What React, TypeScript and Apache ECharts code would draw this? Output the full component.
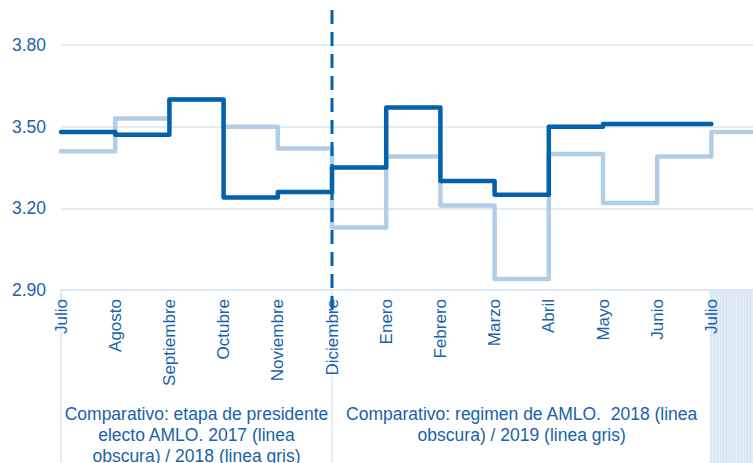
import React, { useEffect, useRef } from "react";
import * as echarts from "echarts";

// Month categories (last "Agosto" lies just beyond the visible edge)
const categories = [
  "Julio", "Agosto", "Septiembre", "Octubre", "Noviembre", "Diciembre",
  "Enero", "Febrero", "Marzo", "Abril", "Mayo", "Junio", "Julio", "Agosto",
];
// Dark line: 2017 / 2018
const darkSeries = [3.48, 3.47, 3.6, 3.24, 3.26, 3.35, 3.57, 3.3, 3.25, 3.5, 3.51, 3.51, null, null];
// Light line: 2018 / 2019
const lightSeries = [3.41, 3.53, 3.6, 3.5, 3.42, 3.13, 3.39, 3.21, 2.94, 3.4, 3.22, 3.39, 3.48, 3.48];
// Y axis ticks
const yMin = 2.9;
const yMax = 3.8;
const yStep = 0.3;
// Group labels under the axis
const groupLabels = [
  "Comparativo: etapa de presidente\nelecto AMLO. 2017 (linea\nobscura) / 2018 (linea gris)",
  "Comparativo: regimen de AMLO.  2018 (linea\nobscura) / 2019 (linea gris)",
];
const groupSpans = [[0, 5], [5, 12]];
const dividerIndex = 5; // Diciembre

const FONT = "'Liberation Sans', Arial, Helvetica, sans-serif";
const TEXT = "#1862aa";
const DARK = "#0462aa";
const LIGHT = "#b2cde5";
const GRID = "#d9e6f2";
const VIEW_W = 753;
const VIEW_H = 463;

export default function App() {
  const ref = useRef<HTMLDivElement>(null);
  useEffect(() => {
    if (!ref.current) return;
    const chart = echarts.init(ref.current, undefined, { renderer: "svg" });
    chart.setOption({
      animation: false,
      backgroundColor: "#ffffff",
      grid: { left: 61, top: 45, width: 704.6, height: 245, containLabel: false },
      xAxis: {
        type: "category",
        data: categories,
        boundaryGap: false,
        axisLine: { show: true, lineStyle: { color: GRID, width: 1.5 } },
        axisTick: { show: false },
        splitLine: { show: false },
        axisLabel: {
          interval: 0,
          rotate: 90,
          margin: 9,
          color: TEXT,
          fontFamily: FONT,
          fontSize: 17,
          formatter: (v: string, i: number) => (i < 13 ? v : ""),
        },
      },
      yAxis: {
        type: "value",
        min: yMin,
        max: yMax,
        interval: yStep,
        axisLine: { show: false },
        axisTick: { show: false },
        splitLine: { show: true, lineStyle: { color: GRID, width: 1.5 } },
        axisLabel: {
          margin: 15,
          color: TEXT,
          fontFamily: FONT,
          fontSize: 17.5,
          formatter: (v: number) => v.toFixed(2),
        },
      },
      series: [
        {
          type: "line",
          data: lightSeries,
          step: "end",
          symbol: "none",
          lineStyle: { color: LIGHT, width: 4.5, cap: "round", join: "round" },
          z: 2,
        },
        {
          type: "line",
          data: darkSeries,
          step: "end",
          symbol: "none",
          lineStyle: { color: DARK, width: 4.5, cap: "round", join: "round" },
          z: 3,
        },
      ],
    });

    const px = (i: number) => chart.convertToPixel({ xAxisIndex: 0 }, i) as number;
    const bottom = 290;
    const graphics: any[] = [];
    // hatched cell at the right
    const hx = px(12) - 2;
    graphics.push({
      type: "rect",
      shape: { x: hx, y: bottom, width: VIEW_W - hx, height: VIEW_H - bottom },
      style: { fill: "#e3edf7" },
      z: 0,
    });
    for (let x = hx + 2; x < VIEW_W; x += 3) {
      graphics.push({
        type: "line",
        shape: { x1: x, y1: bottom, x2: x, y2: VIEW_H },
        style: { stroke: "#d2e1f0", lineWidth: 0.8 },
        z: 0,
      });
    }
    // table borders under axis
    [0, dividerIndex].forEach((i) => {
      const x = px(i);
      graphics.push({
        type: "line",
        shape: { x1: x, y1: bottom, x2: x, y2: VIEW_H },
        style: { stroke: GRID, lineWidth: 1.5 },
        z: 0,
      });
    });
    // group labels
    groupLabels.forEach((t, k) => {
      const [a, b] = groupSpans[k];
      const cx = (px(a) + px(b)) / 2;
      graphics.push({
        type: "text",
        x: cx,
        y: 403,
        style: {
          text: t,
          fill: TEXT,
          font: `17.5px ${FONT}`,
          align: "center",
          verticalAlign: "top",
          lineHeight: 21,
        },
        z: 5,
      });
    });
    // dashed divider
    const dx = px(dividerIndex);
    graphics.push({
      type: "line",
      shape: { x1: dx, y1: 10, x2: dx, y2: 312 },
      style: { stroke: DARK, lineWidth: 3, lineDash: [14, 8] },
      z: 10,
    });
    chart.setOption({ graphic: graphics });

    return () => chart.dispose();
  }, []);
  return (
    <div
      style={{ position: "fixed", left: 0, top: 0, width: VIEW_W, height: VIEW_H, overflow: "hidden", background: "#fff" }}
    >
      <div ref={ref} style={{ width: 780, height: VIEW_H }} />
    </div>
  );
}
